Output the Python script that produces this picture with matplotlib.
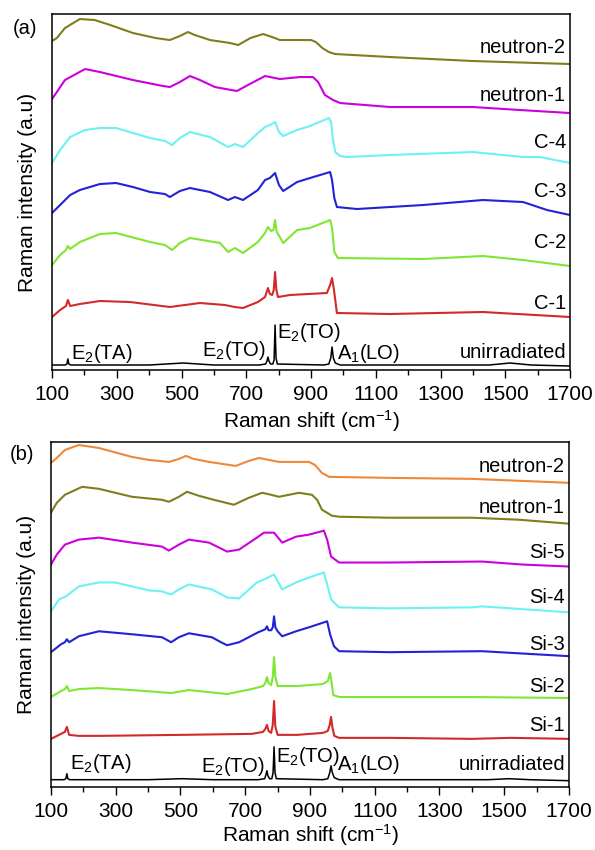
import matplotlib
matplotlib.use("Agg")
import matplotlib.pyplot as plt

plt.rcParams['font.family'] = ['Liberation Sans', 'DejaVu Sans']
plt.rcParams['mathtext.default'] = 'regular'

# ---------- panel (a) ----------
a_n2_x = [100, 115, 140, 186, 232, 280, 350, 420, 464, 495, 520, 541, 588, 650, 675, 713, 752, 780, 804,
          866, 900, 915, 935, 955, 975, 1144, 1400, 1700]
a_n2_y = [329, 332, 342, 351, 350, 345, 337, 332, 330, 334, 338, 335, 330, 327, 325, 332, 336, 333, 330,
          330, 330, 328, 322, 318, 316, 313, 309, 306]

a_n1_x = [100, 115, 140, 202, 248, 350, 443, 464, 495, 526, 557, 603, 671, 711, 758, 804, 866, 906, 922,
          943, 968, 990, 1144, 1400, 1545, 1700]
a_n1_y = [271, 278, 290, 301, 298, 290, 284, 283, 288, 294, 290, 283, 279, 286, 294, 291, 293, 293, 288,
          275, 270, 267, 263, 263, 260, 257]

a_c4_x = [100, 125, 156, 202, 248, 298, 403, 449, 471, 495, 526, 588, 644, 665, 690, 736, 758, 773, 789,
          801, 814, 857, 897, 955, 962, 968, 975, 990, 1011, 1144, 1400, 1555, 1607, 1700]
a_c4_y = [207, 220, 233, 240, 242, 242, 232, 229, 225, 232, 238, 233, 223, 226, 223, 237, 243, 245, 248,
          238, 234, 240, 244, 252, 248, 230, 218, 214, 213, 215, 218, 213, 213, 207]

a_c3_x = [100, 125, 156, 186, 248, 298, 350, 403, 449, 464, 495, 526, 588, 644, 665, 690, 736, 758, 773,
          789, 801, 814, 857, 897, 959, 965, 972, 980, 1042, 1246, 1431, 1555, 1629, 1700]
a_c3_y = [157, 165, 175, 180, 186, 187, 183, 178, 176, 173, 179, 182, 178, 170, 173, 170, 180, 190, 192,
          197, 185, 179, 188, 192, 198, 190, 172, 163, 161, 165, 170, 168, 160, 155]

a_c2_x = [100, 125, 143, 149, 156, 186, 248, 298, 403, 449, 471, 495, 526, 619, 644, 665, 690, 736, 758,
          767, 777, 784, 789, 794, 800, 814, 857, 897, 959, 965, 972, 983, 1246, 1431, 1555, 1700]
a_c2_y = [105, 115, 120, 124, 121, 128, 136, 137, 128, 125, 120, 127, 132, 127, 118, 122, 117, 128, 137,
          143, 139, 140, 150, 138, 135, 127, 140, 142, 150, 142, 118, 112, 111, 114, 110, 104]

a_c1_x = [100, 125, 143, 149, 156, 186, 248, 341, 464, 557, 634, 665, 690, 736, 758, 767, 773, 780, 785,
          789, 793, 798, 835, 949, 959, 965, 971, 980, 1144, 1431, 1700]
a_c1_y = [53, 60, 64, 70, 64, 66, 69, 68, 63, 67, 65, 63, 62, 68, 73, 82, 76, 75, 80,
          98, 80, 73, 75, 77, 85, 92, 80, 57, 56, 58, 53]

a_un_x = [100, 140, 146, 149, 152, 158, 400, 505, 600, 740, 760, 764, 767, 770, 775, 782, 786, 789, 792,
          796, 940, 955, 961, 965, 969, 975, 990, 1450, 1515, 1580, 1700]
a_un_y = [5, 5, 6, 11, 6, 5, 5, 7, 5, 5, 6, 9, 13, 9, 6, 6, 10, 45, 12,
          6, 5, 6, 12, 23, 12, 7, 5, 5, 7, 5, 4]

# ---------- panel (b) ----------
b_n2_x = [100, 118, 143, 186, 248, 350, 403, 464, 495, 517, 541, 588, 671, 711, 743, 773, 804, 866, 897,
          915, 937, 959, 1144, 1400, 1700]
b_n2_y = [325, 330, 338, 343, 340, 331, 328, 326, 329, 332, 329, 326, 322, 327, 330, 328, 326, 326, 326,
          323, 315, 311, 310, 309, 305]

b_n1_x = [100, 118, 143, 196, 248, 350, 443, 464, 495, 520, 557, 603, 665, 711, 752, 780, 804, 866, 906,
          922, 937, 968, 990, 1144, 1400, 1545, 1700]
b_n1_y = [275, 285, 293, 301, 299, 291, 288, 286, 291, 296, 292, 288, 283, 290, 295, 293, 291, 295, 293,
          288, 278, 272, 271, 270, 270, 268, 264]

b_s5_x = [100, 118, 143, 186, 248, 350, 443, 464, 495, 526, 588, 644, 681, 736, 758, 789, 814, 857, 897,
          943, 953, 965, 990, 1144, 1431, 1555, 1700]
b_s5_y = [223, 233, 243, 248, 250, 245, 241, 237, 243, 248, 245, 236, 238, 250, 255, 255, 245, 251, 253,
          257, 248, 231, 225, 225, 226, 223, 221]

b_s4_x = [100, 125, 146, 186, 248, 298, 403, 443, 471, 495, 526, 597, 644, 681, 736, 758, 789, 814, 857,
          897, 943, 953, 965, 990, 1144, 1400, 1431, 1700]
b_s4_y = [176, 188, 191, 201, 205, 205, 197, 196, 193, 198, 203, 198, 190, 189, 205, 208, 213, 198, 205,
          210, 215, 203, 188, 180, 179, 180, 181, 175]

b_s3_x = [100, 131, 143, 149, 156, 186, 248, 350, 443, 471, 495, 526, 597, 625, 644, 681, 740, 762, 767,
          772, 780, 785, 789, 793, 800, 814, 857, 897, 953, 962, 974, 990, 1144, 1431, 1700]
b_s3_y = [135, 143, 145, 148, 145, 151, 156, 153, 150, 145, 150, 154, 150, 145, 142, 145, 155, 158, 161,
          157, 157, 160, 171, 160, 156, 151, 156, 160, 166, 153, 141, 136, 135, 136, 131]

b_s2_x = [100, 131, 143, 149, 156, 186, 248, 350, 471, 526, 644, 720, 755, 762, 767, 772, 780, 785, 789,
          793, 800, 857, 900, 940, 955, 962, 966, 972, 990, 1144, 1400, 1700]
b_s2_y = [90, 96, 98, 101, 96, 98, 99, 97, 94, 97, 93, 98, 101, 104, 110, 104, 102, 110, 130,
          110, 101, 101, 102, 103, 106, 114, 106, 92, 90, 90, 90, 89]

b_s1_x = [100, 131, 143, 149, 156, 186, 248, 500, 720, 755, 762, 767, 772, 780, 785, 789, 793, 800, 860,
          940, 955, 961, 965, 969, 975, 990, 1144, 1400, 1520, 1700]
b_s1_y = [48, 53, 55, 60, 52, 51, 51, 52, 53, 55, 58, 62, 56, 54, 62, 86, 60, 52, 52,
          54, 56, 62, 70, 60, 51, 49, 49, 48, 49, 48]

b_un_x = a_un_x
b_un_y = [7, 7, 8, 13, 8, 7, 7, 8, 7, 7, 8, 12, 16, 11, 8, 8, 14, 40, 14,
          8, 7, 8, 14, 21, 14, 9, 7, 7, 8, 7, 6]

major_ticks = [100, 300, 500, 700, 900, 1100, 1300, 1500, 1700]
minor_ticks = [200, 400, 600, 800, 1000, 1200, 1400, 1600]

olive = '#7E7E1E'
magenta = '#CC00DD'
cyan = '#6CF2F2'
blue = '#2222D6'
green = '#80E632'
red = '#D22A2A'
orange = '#F08838'

curves_a = [(a_n2_x, a_n2_y, olive, 'neutron-2', 323),
            (a_n1_x, a_n1_y, magenta, 'neutron-1', 275),
            (a_c4_x, a_c4_y, cyan, 'C-4', 228),
            (a_c3_x, a_c3_y, blue, 'C-3', 179),
            (a_c2_x, a_c2_y, green, 'C-2', 128),
            (a_c1_x, a_c1_y, red, 'C-1', 67),
            (a_un_x, a_un_y, 'black', 'unirradiated', 18)]

curves_b = [(b_n2_x, b_n2_y, orange, 'neutron-2', 321),
            (b_n1_x, b_n1_y, olive, 'neutron-1', 280),
            (b_s5_x, b_s5_y, magenta, 'Si-5', 235),
            (b_s4_x, b_s4_y, cyan, 'Si-4', 190),
            (b_s3_x, b_s3_y, blue, 'Si-3', 143),
            (b_s2_x, b_s2_y, green, 'Si-2', 101),
            (b_s1_x, b_s1_y, red, 'Si-1', 61),
            (b_un_x, b_un_y, 'black', 'unirradiated', 22)]

fig = plt.figure(figsize=(5.95, 8.5), dpi=100)
ax1 = fig.add_axes([0.0874, 0.5647, 0.8706, 0.4188])
ax2 = fig.add_axes([0.0857, 0.0745, 0.8706, 0.4055])

def draw(ax, curves, ytop, tags, xpad):
    for x, y, c, name, ly in curves:
        ax.plot(x, y, color=c, lw=1.1 if c == 'black' else 1.5)
        ax.text(1688, ly, name, ha='right', va='center', fontsize=14.5)
    for tx, ty, s, ha in tags:
        ax.text(tx, ty, s, ha=ha, va='center', fontsize=14.5)
    ax.set_xlim(100, 1700)
    ax.set_ylim(0, ytop)
    ax.set_yticks([])
    ax.set_xticks(major_ticks)
    ax.set_xticks(minor_ticks, minor=True)
    ax.tick_params(axis='x', which='major', direction='out', length=6, width=1, labelsize=15, pad=5)
    ax.tick_params(axis='x', which='minor', direction='out', length=3.5, width=1)
    for sp in ax.spines.values():
        sp.set_linewidth(1.1)
    ax.set_xlabel('Raman shift (cm$^{-1}$)', fontsize=15, labelpad=xpad)
    ax.set_ylabel('Raman intensity (a.u)', fontsize=15, labelpad=11)

tags_a = [(160, 17, 'E$_2$(TA)', 'left'),
          (760, 20, 'E$_2$(TO)', 'right'),
          (796, 38, 'E$_2$(TO)', 'left'),
          (980, 17, 'A$_1$(LO)', 'left')]
tags_b = [(158, 23, 'E$_2$(TA)', 'left'),
          (762, 20, 'E$_2$(TO)', 'right'),
          (796, 30, 'E$_2$(TO)', 'left'),
          (982, 22, 'A$_1$(LO)', 'left')]

draw(ax1, curves_a, 356, tags_a, 3)
draw(ax2, curves_b, 346, tags_b, 1)

fig.text(0.021, 0.966, '(a)', fontsize=14.5, va='center', ha='left')
fig.text(0.017, 0.465, '(b)', fontsize=14.5, va='center', ha='left')

fig.savefig('out.png', dpi=100)
